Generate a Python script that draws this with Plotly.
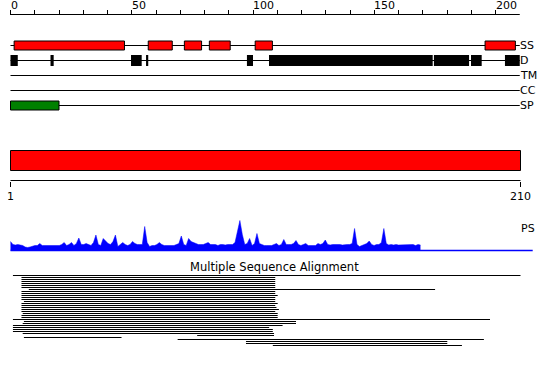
import plotly.graph_objects as go

# ---------------- data ----------------
SEQ_LEN = 210
RULER_TICKS = list(range(0, 201, 10))
RULER_LABEL_VALUES = [0, 50, 100, 150, 200]

TRACK_NAMES = ["SS", "D", "TM", "CC", "SP"]
SS_SEGMENTS = [(1.5, 47.0), (56.8, 66.7), (71.7, 78.8), (82.0, 90.6), (100.9, 108.0), (195.7, 208.2)]
DISORDER_SEGMENTS = [(0.0, 3.0), (16.5, 17.8), (49.7, 54.1), (55.9, 56.8), (97.5, 100.0),
                     (106.6, 174.1), (174.6, 189.1), (189.9, 194.3), (203.9, 210.0)]
TM_SEGMENTS = []
CC_SEGMENTS = []
SP_SEGMENTS = [(0.0, 20.0)]

DOMAINS = [(1, 210)]
DOMAIN_TICKS = [1, 210]

PS_VALUES = [
    9, 6, 5.5, 6, 5.5, 5, 3.5, 3, 3.5, 4.5,
    5, 5, 7, 5, 5, 5, 5, 5, 5, 5.5,
    5, 6, 8, 5, 6, 8, 5, 7, 12.5, 6,
    6, 7, 6, 5, 8, 15.5, 6, 5, 12, 9,
    7, 6, 9, 15.5, 4, 6, 8, 6, 5, 6,
    9, 7, 6, 6, 6, 24, 8, 4, 5, 5,
    6, 8, 6, 5, 5, 5, 5, 5, 6, 7,
    14.5, 6, 5, 12, 9, 8, 7, 6, 6, 6,
    7, 8, 6, 6, 6, 5, 6, 6, 5.5, 6,
    6, 6, 8, 18, 30, 16, 6, 7, 12, 5,
    7, 17, 7, 6, 5, 5, 5, 5, 6, 7,
    5, 6, 11, 6, 6, 6, 7, 10, 6, 5,
    6, 7, 5, 5, 4.5, 5, 7, 6, 7, 10.5,
    6, 5.5, 6, 6, 6.5, 6, 5.5, 6, 6, 6,
    7, 22, 6, 4, 5, 6, 7, 9.5, 6, 5,
    6, 6, 8, 22, 7, 5.5, 6, 5.5, 6, 5.5,
    5.5, 6, 5.5, 6, 5.5, 6, 5, 6, 5.5,
]
PS_END = 215

ALN_START = [2, 5.5, 5.5, 5.5, 5.5, 5.5, 5.5, 8.5, 5.5, 5.5,
             5.5, 5.5, 5.5, 6.5, 5.5, 5.5, 5.5, 5.5, 5.5, 6,
             5.5, 5.5, 2, 6.5, 6, 2, 2, 2, 2, 6,
             77.5, 6.5, 69.5, 97.5, 97.5, 108.5]
ALN_END = [210, 109.5, 109.5, 109.5, 109.5, 109.5, 109.5, 175, 109.5, 109.5,
           110.5, 109.5, 109.5, 109.5, 110.5, 109.5, 110, 111, 109.5, 110.5,
           110.5, 110.5, 197.5, 118, 118, 112.5, 107, 108.5, 108.5, 109,
           109, 46.5, 195, 180, 180, 186]

# ---------------- layout constants (pixels) ----------------
W, H = 550, 367
FONT = "DejaVu Sans"
TOP_X0_PX, TOP_SCALE = 10.5, 485 / 200          # value 0 -> px
BOT_X0_PX, BOT_SCALE = 10.5, 510 / 209          # residue 1 -> px
TOP_RULER_PX = 14.5
TOP_LABEL_PX = 14
TRACK_PX = [45.5, 60.5, 75.5, 90.5, 105.5]
BOX_HALF = 4.5
D_HALF = 5.5
DOMAIN_BAR_PX = (150.5, 170.5)
BOT_RULER_PX = 180.5
PS_BASE_PX = 250.5
PS_LABEL_PX = 228
TITLE_PX = 266.5
ALN_TOP_PX = 275.5
ALN_PITCH = 2


def rect_path(segs, y0, y1):
    xs, ys = [], []
    for a, b in segs:
        xs += [a, b, b, a, a, None]
        ys += [y0, y0, y1, y1, y0, None]
    return xs, ys


fig = go.Figure()

# top ruler line
fig.add_trace(go.Scatter(x=[0, SEQ_LEN], y=[TOP_RULER_PX, TOP_RULER_PX], mode="lines",
                         line=dict(color="black", width=1), xaxis="x", yaxis="y", hoverinfo="skip"))

# track baselines
lx, ly = [], []
for yp in TRACK_PX:
    lx += [0, SEQ_LEN, None]
    ly += [yp, yp, None]
fig.add_trace(go.Scatter(x=lx, y=ly, mode="lines", line=dict(color="black", width=1),
                         xaxis="x", yaxis="y", hoverinfo="skip"))

# SS boxes
xs, ys = rect_path(SS_SEGMENTS, TRACK_PX[0] - BOX_HALF, TRACK_PX[0] + BOX_HALF)
fig.add_trace(go.Scatter(x=xs, y=ys, mode="lines", fill="toself", fillcolor="#ff0000",
                         line=dict(color="black", width=1), xaxis="x", yaxis="y", hoverinfo="skip"))
# disorder boxes
xs, ys = rect_path(DISORDER_SEGMENTS, TRACK_PX[1] - D_HALF, TRACK_PX[1] + D_HALF)
fig.add_trace(go.Scatter(x=xs, y=ys, mode="lines", fill="toself", fillcolor="black",
                         line=dict(color="black", width=0), xaxis="x", yaxis="y", hoverinfo="skip"))
# TM / CC (empty)
for segs, yp in ((TM_SEGMENTS, TRACK_PX[2]), (CC_SEGMENTS, TRACK_PX[3])):
    if segs:
        xs, ys = rect_path(segs, yp - BOX_HALF, yp + BOX_HALF)
        fig.add_trace(go.Scatter(x=xs, y=ys, mode="lines", fill="toself", fillcolor="#888888",
                                 line=dict(color="black", width=1), xaxis="x", yaxis="y"))
# SP box
xs, ys = rect_path(SP_SEGMENTS, TRACK_PX[4] - BOX_HALF, TRACK_PX[4] + BOX_HALF)
fig.add_trace(go.Scatter(x=xs, y=ys, mode="lines", fill="toself", fillcolor="#008000",
                         line=dict(color="black", width=1), xaxis="x", yaxis="y", hoverinfo="skip"))

# domain bar
xs, ys = rect_path(DOMAINS, DOMAIN_BAR_PX[0], DOMAIN_BAR_PX[1])
fig.add_trace(go.Scatter(x=xs, y=ys, mode="lines", fill="toself", fillcolor="#ff0000",
                         line=dict(color="black", width=1), xaxis="x2", yaxis="y", hoverinfo="skip"))
# bottom ruler line
fig.add_trace(go.Scatter(x=[DOMAIN_TICKS[0], DOMAIN_TICKS[-1]], y=[BOT_RULER_PX, BOT_RULER_PX],
                         mode="lines", line=dict(color="black", width=1),
                         xaxis="x2", yaxis="y", hoverinfo="skip"))

# PS profile
ps_x = list(range(1, len(PS_VALUES) + 1))
fig.add_trace(go.Scatter(x=ps_x, y=PS_VALUES, mode="lines", fill="tozeroy", fillcolor="#0000ff",
                         line=dict(color="#0000ff", width=0.5), xaxis="x2", yaxis="y3", hoverinfo="skip"))
fig.add_trace(go.Scatter(x=[1, PS_END], y=[0, 0], mode="lines", line=dict(color="#0000ff", width=1.3),
                         xaxis="x2", yaxis="y3", hoverinfo="skip"))

# alignment
ax, ay = [], []
for k, (a, b) in enumerate(zip(ALN_START, ALN_END)):
    ax += [a, b, None]
    ay += [k, k, None]
fig.add_trace(go.Scatter(x=ax, y=ay, mode="lines", line=dict(color="black", width=1),
                         xaxis="x2", yaxis="y4", hoverinfo="skip"))

# ---------------- annotations ----------------
ann = []
for v in RULER_LABEL_VALUES:
    ann.append(dict(x=v, y=TOP_LABEL_PX, xref="x", yref="y", text=str(v), showarrow=False,
                    xanchor="left", yanchor="bottom", xshift=-2, font=dict(size=11)))
for name, yp in zip(TRACK_NAMES, TRACK_PX):
    ann.append(dict(x=SEQ_LEN, y=yp, xref="x", yref="y", text=name, showarrow=False,
                    xanchor="left", yanchor="middle", xshift=-2, font=dict(size=11)))
ann.append(dict(x=DOMAIN_TICKS[-1], y=PS_LABEL_PX, xref="x2", yref="y", text="PS", showarrow=False,
                xanchor="left", yanchor="middle", xshift=-2, font=dict(size=11)))
ann.append(dict(x=274 / W, y=TITLE_PX, xref="paper", yref="y", text="Multiple Sequence Alignment",
                showarrow=False, xanchor="center", yanchor="middle", font=dict(size=11.5)))

top_range = [-TOP_X0_PX / TOP_SCALE, (W - TOP_X0_PX) / TOP_SCALE]
bot_range = [1 - BOT_X0_PX / BOT_SCALE, 1 + (W - BOT_X0_PX) / BOT_SCALE]

fig.update_layout(
    width=W, height=H, margin=dict(l=0, r=0, t=0, b=0, pad=0),
    paper_bgcolor="white", plot_bgcolor="rgba(0,0,0,0)", showlegend=False,
    font=dict(family=FONT, size=11, color="black"),
    annotations=ann,
    xaxis=dict(domain=[0, 1], range=top_range, anchor="free", position=1 - TOP_RULER_PX / H,
               side="top", showgrid=False, zeroline=False, showline=False,
               tickmode="array", tickvals=RULER_TICKS, showticklabels=False,
               ticks="outside", ticklen=5, tickwidth=1, tickcolor="black"),
    xaxis2=dict(domain=[0, 1], range=bot_range, anchor="free", position=1 - BOT_RULER_PX / H,
                side="bottom", showgrid=False, zeroline=False, showline=False,
                tickmode="array", tickvals=DOMAIN_TICKS, ticktext=[str(v) for v in DOMAIN_TICKS],
                ticks="outside", ticklen=5, tickwidth=1, tickcolor="black", tickfont=dict(size=11)),
    yaxis=dict(domain=[0, 1], range=[H, 0], visible=False, anchor="free", position=0),
    yaxis3=dict(domain=[0, 1], range=[-(H - PS_BASE_PX), PS_BASE_PX], visible=False,
                anchor="free", position=0, overlaying="y"),
    yaxis4=dict(domain=[0, 1], range=[(H - ALN_TOP_PX) / ALN_PITCH, -ALN_TOP_PX / ALN_PITCH],
                visible=False, anchor="free", position=0, overlaying="y"),
)

fig.write_html("out.html")
